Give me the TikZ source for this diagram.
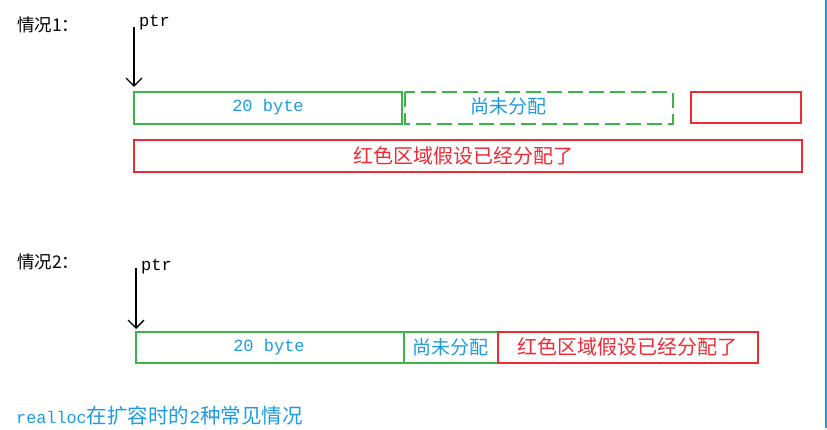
\documentclass[tikz,border=0pt]{standalone}
\usepackage{fontspec}
\setmainfont{Noto Sans CJK SC}
\newfontfamily\monof{Liberation Mono}
\usetikzlibrary{arrows.meta}
\definecolor{gbox}{HTML}{3BB54A}
\definecolor{rbox}{HTML}{EE2A34}
\definecolor{btxt}{HTML}{1E9BE0}
\tikzset{
  gcell/.style={draw=gbox, line width=2pt, inner sep=0pt},
  rcell/.style={draw=rbox, line width=2pt, inner sep=0pt},
  gdash/.style={draw=gbox, line width=2pt, dash pattern=on 15pt off 6pt},
  btext/.style={text=btxt, inner sep=0pt},
  rtext/.style={text=rbox, inner sep=0pt},
  ktext/.style={text=black, inner sep=0pt, anchor=west},
  ptrarrow/.style={draw=black, line width=1.4pt, -{Straight Barb[length=8pt,width=16pt,line width=1.4pt]}},
}
\begin{document}
\begin{tikzpicture}[x=1pt,y=-1pt]
\useasboundingbox (0,0) rectangle (827,430);
% right edge line
\draw[btxt, line width=1.2pt] (826,0) -- (826,428);

% ---------- case 1 ----------
\node[ktext, font=\fontsize{17.5}{19}\selectfont] (c1) at (17,25) {情况1：};
\node[ktext, font=\monof\fontsize{17}{18}\selectfont] (p1) at (139,23) {ptr};
\coordinate (a1s) at (134,27);
\coordinate (a1e) at (134,87);
\draw[ptrarrow] (a1s) -- (a1e);

\draw[gcell] (134,92.5) rectangle (402,124);
\node[btext, font=\monof\fontsize{17}{18}\selectfont] (t1) at (268,107) {20 byte};
\draw[gdash] (405,92.5) rectangle (672.5,124);
\node[btext, font=\fontsize{19}{20}\selectfont] (t2) at (508,106.5) {尚未分配};
\draw[rcell] (691,92.5) rectangle (800.5,123.5);
\draw[rcell] (134,140) rectangle (802,172);
\node[rtext, font=\fontsize{20}{22}\selectfont] (t3) at (463,156) {红色区域假设已经分配了};

% ---------- case 2 ----------
\node[ktext, font=\fontsize{17.5}{19}\selectfont] (c2) at (17,262) {情况2：};
\node[ktext, font=\monof\fontsize{17}{18}\selectfont] (p2) at (141,267) {ptr};
\coordinate (a2s) at (136,268);
\coordinate (a2e) at (136,329);
\draw[ptrarrow] (a2s) -- (a2e);

\draw[gcell] (135.5,332) rectangle (403.5,363);
\node[btext, font=\monof\fontsize{17}{18}\selectfont] (t4) at (269,347) {20 byte};
\draw[gcell] (403.5,332) rectangle (497.5,363);
\node[btext, font=\fontsize{19}{20}\selectfont] (t5) at (450.5,347.5) {尚未分配};
\draw[rcell] (497.5,332) rectangle (758,363);
\node[rtext, font=\fontsize{20}{22}\selectfont] (t6) at (627,347) {红色区域假设已经分配了};

% ---------- caption ----------
\node[btext, anchor=west, font=\fontsize{20.5}{22}\selectfont] (cap) at (16,416) {{\monof\fontsize{16.8}{18}\selectfont realloc}在扩容时的{\monof\fontsize{18}{18}\selectfont 2}种常见情况};
\end{tikzpicture}
\end{document}
